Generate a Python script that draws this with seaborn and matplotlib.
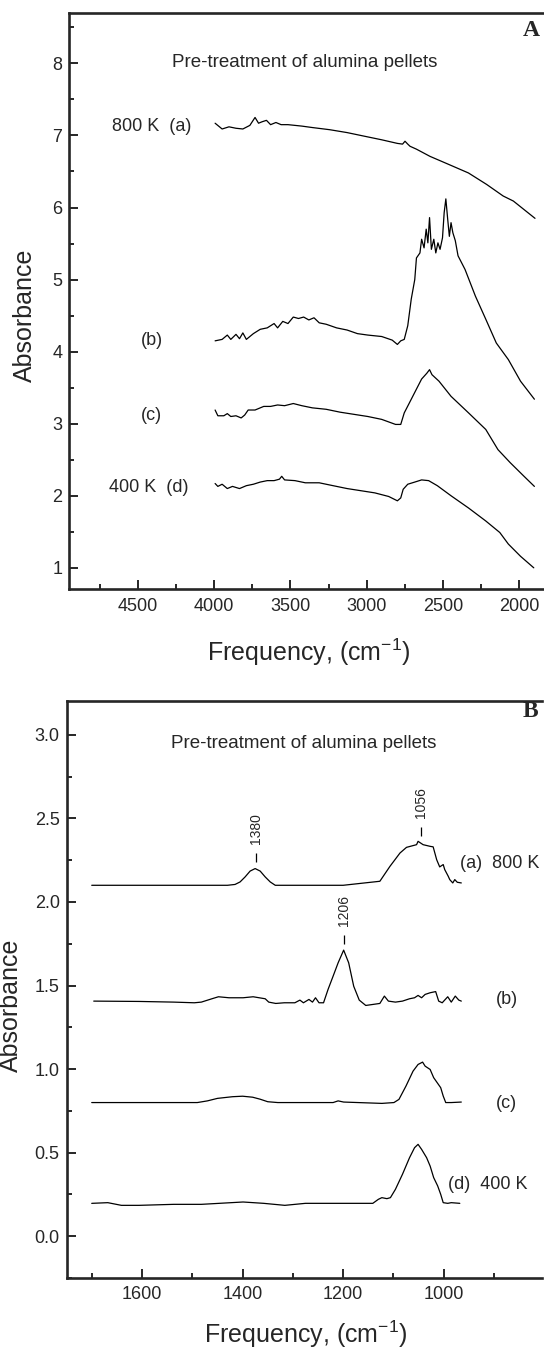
import matplotlib
matplotlib.use("Agg")
import matplotlib.pyplot as plt
from matplotlib.ticker import MultipleLocator, FormatStrFormatter
import seaborn as sns

# ---- panel A: OH / high frequency region ----
a_800_freq = [3994, 3948, 3903, 3857, 3812, 3766, 3732, 3709, 3686, 3657, 3630, 3595, 3561, 3516,
              3470, 3425, 3356, 3242, 3128, 3015, 2901, 2798, 2764, 2748, 2730, 2715, 2673, 2584,
              2474, 2332, 2212, 2104, 2037, 1895]
a_800_abs = [7.17, 7.09, 7.12, 7.10, 7.09, 7.14, 7.25, 7.17, 7.19, 7.21, 7.15, 7.18, 7.15, 7.15,
             7.14, 7.13, 7.11, 7.08, 7.04, 6.99, 6.94, 6.89, 6.88, 6.92, 6.88, 6.85, 6.81, 6.71,
             6.61, 6.48, 6.32, 6.16, 6.09, 5.85]

b_freq = [3994, 3948, 3914, 3891, 3857, 3834, 3812, 3789, 3743, 3698, 3652, 3607, 3584, 3550,
          3516, 3481, 3447, 3413, 3379, 3345, 3311, 3265, 3197, 3128, 3060, 2992, 2901, 2832,
          2798, 2776, 2753, 2730, 2707, 2684, 2673, 2650, 2639, 2623, 2609, 2598, 2587, 2575,
          2559, 2546, 2532, 2518, 2502, 2491, 2480, 2468, 2457, 2446, 2434, 2418, 2400, 2354,
          2286, 2218, 2149, 2070, 1990, 1899]
b_abs = [4.15, 4.17, 4.23, 4.17, 4.24, 4.18, 4.26, 4.17, 4.25, 4.31, 4.33, 4.39, 4.33, 4.42,
         4.39, 4.48, 4.46, 4.48, 4.44, 4.47, 4.40, 4.38, 4.33, 4.30, 4.25, 4.23, 4.21, 4.16,
         4.10, 4.15, 4.17, 4.36, 4.73, 5.00, 5.30, 5.37, 5.56, 5.44, 5.70, 5.51, 5.86, 5.42,
         5.56, 5.37, 5.51, 5.42, 5.58, 5.93, 6.12, 5.84, 5.60, 5.79, 5.65, 5.54, 5.33, 5.14,
         4.77, 4.45, 4.12, 3.89, 3.59, 3.34]

c_freq = [3994, 3976, 3937, 3914, 3891, 3857, 3823, 3800, 3777, 3732, 3675, 3630, 3584, 3538,
          3481, 3425, 3356, 3265, 3174, 3083, 2992, 2901, 2810, 2776, 2753, 2719, 2673, 2639,
          2605, 2587, 2571, 2525, 2446, 2331, 2218, 2138, 2058, 1967, 1899]
c_abs = [3.19, 3.11, 3.11, 3.14, 3.10, 3.11, 3.08, 3.12, 3.19, 3.19, 3.24, 3.24, 3.26, 3.25,
         3.28, 3.25, 3.22, 3.20, 3.16, 3.13, 3.10, 3.06, 2.99, 2.99, 3.15, 3.29, 3.48, 3.62,
         3.70, 3.75, 3.68, 3.59, 3.38, 3.15, 2.92, 2.64, 2.46, 2.27, 2.13]

d_400_freq = [3994, 3976, 3948, 3914, 3880, 3834, 3789, 3743, 3698, 3652, 3607, 3572, 3557, 3538,
              3470, 3402, 3311, 3220, 3128, 3037, 2946, 2855, 2798, 2776, 2760, 2730, 2684, 2639,
              2593, 2536, 2446, 2331, 2218, 2126, 2070, 1990, 1903]
d_400_abs = [2.17, 2.13, 2.16, 2.10, 2.13, 2.10, 2.14, 2.16, 2.19, 2.21, 2.21, 2.23, 2.27, 2.22,
             2.21, 2.18, 2.18, 2.14, 2.10, 2.07, 2.04, 1.99, 1.93, 1.97, 2.09, 2.16, 2.19, 2.22,
             2.21, 2.14, 2.00, 1.83, 1.65, 1.49, 1.33, 1.16, 1.00]

# ---- panel B: low frequency region ----
ba_freq = [1700, 1600, 1500, 1430, 1415, 1405, 1395, 1385, 1375, 1365, 1355, 1345, 1335, 1300,
           1200, 1127, 1107, 1087, 1074, 1054, 1051, 1041, 1027, 1021, 1014, 1008, 1001, 998,
           991, 988, 982, 978, 973, 965]
ba_abs = [2.10, 2.10, 2.10, 2.10, 2.105, 2.12, 2.15, 2.185, 2.20, 2.185, 2.15, 2.12, 2.10, 2.10,
          2.10, 2.124, 2.213, 2.293, 2.327, 2.343, 2.363, 2.343, 2.333, 2.33, 2.253, 2.21, 2.224,
          2.194, 2.154, 2.134, 2.114, 2.134, 2.118, 2.114]

bb_freq = [1696, 1606, 1537, 1496, 1482, 1461, 1448, 1427, 1399, 1379, 1355, 1348, 1334, 1317,
           1296, 1286, 1279, 1268, 1261, 1255, 1248, 1239, 1230, 1220, 1210, 1199, 1189, 1179,
           1168, 1155, 1141, 1127, 1118, 1110, 1096, 1082, 1068, 1058, 1051, 1044, 1037, 1027,
           1016, 1010, 1003, 992, 985, 977, 970, 965]
bb_abs = [1.407, 1.405, 1.401, 1.397, 1.401, 1.421, 1.433, 1.427, 1.427, 1.433, 1.421, 1.401,
          1.393, 1.397, 1.397, 1.413, 1.397, 1.417, 1.401, 1.427, 1.397, 1.397, 1.477, 1.556,
          1.636, 1.712, 1.636, 1.496, 1.413, 1.381, 1.387, 1.393, 1.437, 1.407, 1.401, 1.407,
          1.421, 1.427, 1.441, 1.427, 1.447, 1.457, 1.464, 1.407, 1.397, 1.433, 1.401, 1.437,
          1.413, 1.407]

bc_freq = [1700, 1606, 1490, 1470, 1450, 1420, 1400, 1380, 1365, 1350, 1330, 1220, 1210, 1199,
           1123, 1099, 1089, 1075, 1061, 1051, 1042, 1037, 1027, 1020, 1013, 1006, 1001, 996,
           985, 965]
bc_abs = [0.80, 0.80, 0.80, 0.81, 0.825, 0.835, 0.838, 0.832, 0.82, 0.805, 0.80, 0.80, 0.81, 0.803,
          0.795, 0.80, 0.819, 0.899, 0.988, 1.028, 1.042, 1.018, 0.998, 0.949, 0.919, 0.889,
          0.839, 0.80, 0.80, 0.803]

bd_freq = [1700, 1668, 1641, 1606, 1537, 1482, 1399, 1358, 1316, 1275, 1192, 1141, 1130, 1123,
           1113, 1106, 1096, 1082, 1068, 1058, 1051, 1044, 1034, 1027, 1020, 1012, 1006, 1001,
           992, 985, 968]
bd_abs = [0.197, 0.201, 0.185, 0.185, 0.191, 0.191, 0.205, 0.197, 0.185, 0.197, 0.197, 0.197,
          0.221, 0.231, 0.225, 0.231, 0.281, 0.371, 0.470, 0.530, 0.550, 0.520, 0.470, 0.420,
          0.351, 0.301, 0.251, 0.201, 0.197, 0.201, 0.197]

peak_labels = ["1380", "1206", "1056"]
peak_freq = [1374, 1198, 1046]
peak_abs = [2.20, 1.71, 2.355]

sns.set_style("ticks")
plt.rcParams['font.family'] = ['Liberation Sans', 'DejaVu Sans']
plt.rcParams['mathtext.fontset'] = 'custom'
plt.rcParams['mathtext.rm'] = 'Liberation Sans'
plt.rcParams['mathtext.it'] = 'Liberation Sans:italic'

fig = plt.figure(figsize=(5.44, 13.51), dpi=100)
ax_a = fig.add_axes([0.1276, 0.5637, 0.9105, 0.4267])
ax_b = fig.add_axes([0.1224, 0.0540, 0.8735, 0.4268])

line_kw = dict(color="black", linewidth=0.9, sort=False, estimator=None, legend=False)

for f, a in [(a_800_freq, a_800_abs), (b_freq, b_abs), (c_freq, c_abs), (d_400_freq, d_400_abs)]:
    sns.lineplot(x=f, y=a, ax=ax_a, **line_kw)
for f, a in [(ba_freq, ba_abs), (bb_freq, bb_abs), (bc_freq, bc_abs), (bd_freq, bd_abs)]:
    sns.lineplot(x=f, y=a, ax=ax_b, **line_kw)

ax_a.set_xlim(4950, 1700)
ax_a.set_ylim(0.7, 8.7)
ax_b.set_xlim(1750, 805)
ax_b.set_ylim(-0.25, 3.2)

ax_a.xaxis.set_major_locator(MultipleLocator(500))
ax_a.xaxis.set_minor_locator(MultipleLocator(250))
ax_a.yaxis.set_major_locator(MultipleLocator(1))
ax_a.yaxis.set_minor_locator(MultipleLocator(0.5))
ax_b.xaxis.set_major_locator(MultipleLocator(200))
ax_b.xaxis.set_minor_locator(MultipleLocator(100))
ax_b.yaxis.set_major_locator(MultipleLocator(0.5))
ax_b.yaxis.set_minor_locator(MultipleLocator(0.25))
ax_b.yaxis.set_major_formatter(FormatStrFormatter('%.1f'))

for ax in (ax_a, ax_b):
    for s in ax.spines.values():
        s.set_linewidth(1.9)
    ax.spines['right'].set_visible(False)
    ax.tick_params(which='both', direction='in', width=1.4, labelsize=13)
    ax.tick_params(which='major', length=6.5)
    ax.tick_params(which='minor', length=3.5)
    ax.tick_params(axis='x', pad=6)
    ax.tick_params(axis='y', pad=5)
    ax.set_xlabel("Frequency, (cm$^{-1}$)", fontsize=18)
    ax.set_ylabel("Absorbance", fontsize=18)
    ax.set_facecolor("white")

ax_a.xaxis.set_label_coords(0.484, -0.081)
ax_b.xaxis.set_label_coords(0.504, -0.071)
ax_a.yaxis.set_label_coords(-0.066, 0.476)
ax_b.yaxis.set_label_coords(-0.092, 0.4735)

title = "Pre-treatment of alumina pellets"
ax_a.text(3406, 8.01, title, fontsize=13.5, ha='center', va='center')
ax_b.text(1279, 2.95, title, fontsize=13.5, ha='center', va='center')

serif_bold = dict(family=['Liberation Serif', 'DejaVu Serif'], weight='bold', fontsize=17,
                  ha='left', va='center')
ax_a.text(1975, 8.45, "A", **serif_bold)
ax_b.text(843, 3.14, "B", **serif_bold)

# curve labels, panel A
ax_a.text(4673, 7.12, "800 K  (a)", fontsize=13, ha='left', va='center')
ax_a.text(4484, 4.15, "(b)", fontsize=13, ha='left', va='center')
ax_a.text(4484, 3.12, "(c)", fontsize=13, ha='left', va='center')
ax_a.text(4688, 2.11, "400 K  (d)", fontsize=13, ha='left', va='center')

# curve labels, panel B
ax_b.text(968, 2.23, "(a)  800 K", fontsize=13, ha='left', va='center')
ax_b.text(896, 1.417, "(b)", fontsize=13, ha='left', va='center')
ax_b.text(896, 0.795, "(c)", fontsize=13, ha='left', va='center')
ax_b.text(992, 0.31, "(d)  400 K", fontsize=13, ha='left', va='center')

# peak markers
for lab, px, py in zip(peak_labels, peak_freq, peak_abs):
    ax_b.vlines(px, py + 0.04, py + 0.095, color='black', linewidth=0.9)
    ax_b.text(px, py + 0.145, lab, rotation=90, fontsize=10, ha='center', va='bottom')

fig.savefig("out.png", dpi=100, facecolor="white")
